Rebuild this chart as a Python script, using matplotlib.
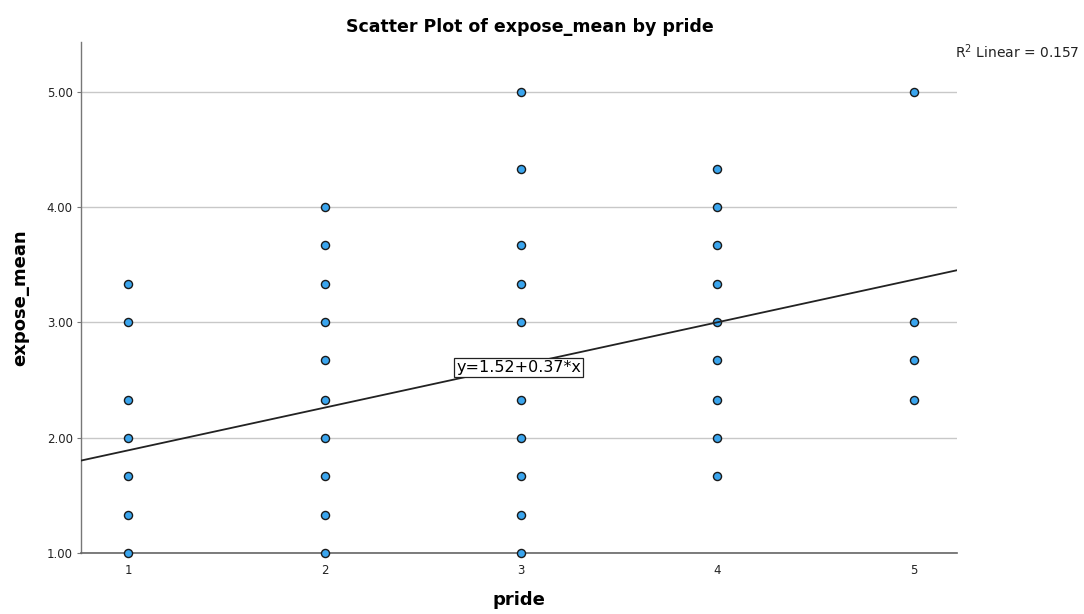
import matplotlib
matplotlib.use("Agg")
import matplotlib.pyplot as plt
import numpy as np

plt.rcParams['font.family'] = ['DejaVu Sans']

pride_1 = [1, 1, 1, 1, 1, 1, 1]
expose_1 = [3.33, 3.00, 2.33, 2.00, 1.67, 1.33, 1.00]
pride_2 = [2] * 10
expose_2 = [4.00, 3.67, 3.33, 3.00, 2.67, 2.33, 2.00, 1.67, 1.33, 1.00]
pride_3 = [3] * 10
expose_3 = [5.00, 4.33, 3.67, 3.33, 3.00, 2.33, 2.00, 1.67, 1.33, 1.00]
pride_4 = [4] * 9
expose_4 = [4.33, 4.00, 3.67, 3.33, 3.00, 2.67, 2.33, 2.00, 1.67]
pride_5 = [5] * 4
expose_5 = [5.00, 3.00, 2.67, 2.33]

intercept = 1.52
slope = 0.37
r2 = 0.157

x_ticks = [1, 2, 3, 4, 5]
y_ticks = [1.0, 2.0, 3.0, 4.0, 5.0]

xs = pride_1 + pride_2 + pride_3 + pride_4 + pride_5
ys = expose_1 + expose_2 + expose_3 + expose_4 + expose_5

fig = plt.figure(figsize=(10.84, 6.14), dpi=100)
ax = fig.add_axes([81/1084, 1 - 553/614, (957-81)/1084, (553-42)/614])

xmin, xmax = 0.76, 5.22
ymin, ymax = 1.0, 5.43
ax.set_xlim(xmin, xmax)
ax.set_ylim(ymin, ymax)

for y in y_ticks:
    ax.axhline(y, color='#c8c8c8', lw=1.0, zorder=0)

ax.scatter(xs, ys, s=34, facecolor='#3aa5ee', edgecolor='#1a1a1a', linewidths=1.0, zorder=3, clip_on=False)

lx = np.array([xmin, xmax])
ax.plot(lx, intercept + slope * lx, color='#222222', lw=1.3, zorder=4)

ax.text(2.67, 2.61, f"y={intercept:.2f}+{slope:.2f}*x", fontsize=11.5, ha='left', va='center',
        bbox=dict(boxstyle='square,pad=0.12', facecolor='white', edgecolor='#222222', lw=0.9), zorder=5)

for s in ['top', 'right']:
    ax.spines[s].set_visible(False)
ax.spines['left'].set_color('#777777')
ax.spines['bottom'].set_color('#666666')
ax.spines['bottom'].set_linewidth(1.2)
ax.spines['left'].set_linewidth(1.0)

ax.set_xticks(x_ticks)
ax.set_xticklabels([str(v) for v in x_ticks], fontsize=8.5, color='#222222')
ax.set_yticks(y_ticks)
ax.set_yticklabels([f"{v:.2f}" for v in y_ticks], fontsize=8.5, color='#222222')
ax.tick_params(axis='x', length=0, pad=8)
ax.tick_params(axis='y', length=3, color='#777777', pad=3)

fig.text(519/1084, 1 - 600/614, 'pride', ha='center', va='center', fontsize=13, fontweight='bold')
fig.text(20/1084, 1 - 298/614, 'expose_mean', ha='center', va='center', rotation=90,
         fontsize=13, fontweight='bold')

fig.text(530/1084, 1 - 27/614, 'Scatter Plot of expose_mean by pride', ha='center', va='center',
         fontsize=12.5, fontweight='bold')
fig.text(1079/1084, 1 - 52/614, f'R$^2$ Linear = {r2:.3f}', ha='right', va='center', fontsize=10, color='#222222')

fig.savefig('out.png', dpi=100)
